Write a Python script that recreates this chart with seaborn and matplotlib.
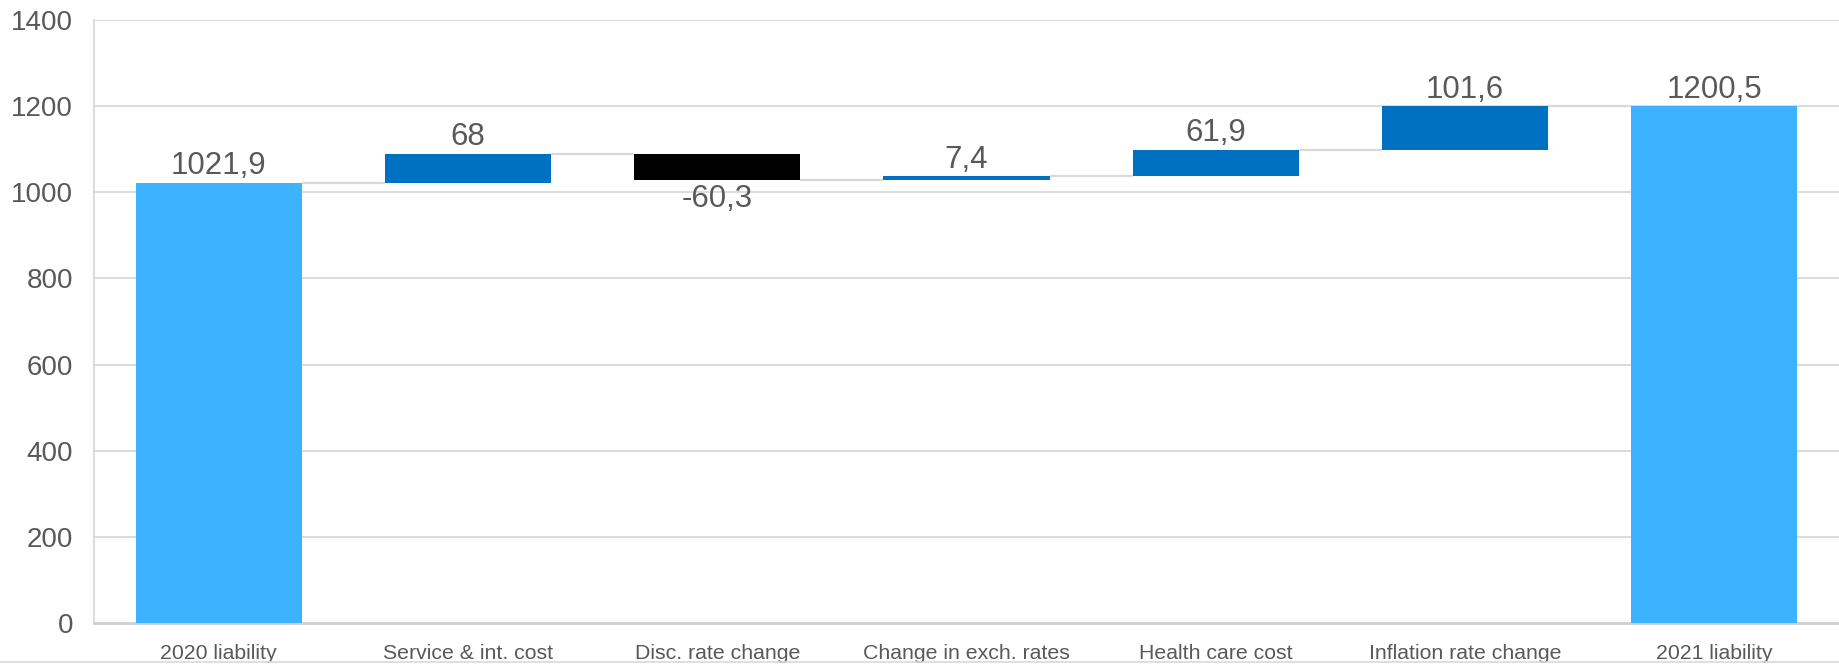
import numpy as np
import matplotlib.pyplot as plt
from matplotlib.lines import Line2D
import seaborn as sns

# Waterfall data
categories = ['2020 liability', 'Service & int. cost', 'Disc. rate change',
              'Change in exch. rates', 'Health care cost', 'Inflation rate change',
              '2021 liability']
changes = [1021.9, 68, -60.3, 7.4, 61.9, 101.6, 1200.5]
is_total = [True, False, False, False, False, False, True]

light_blue = '#3DB2FF'
dark_blue = '#0070C0'
neg_color = '#000000'
text_gray = '#595959'
grid_gray = '#D9D9D9'

# running totals -> bar bottoms / heights
bottoms = []
heights = []
running = 0.0
for v, tot in zip(changes, is_total):
    if tot:
        bottoms.append(0.0)
        heights.append(v)
        running = v
    else:
        bottoms.append(running)
        heights.append(v)
        running += v
levels = [b + h for b, h in zip(bottoms, heights)]

colors = []
for v, tot in zip(changes, is_total):
    if tot:
        colors.append(light_blue)
    elif v < 0:
        colors.append(neg_color)
    else:
        colors.append(dark_blue)

sns.set_theme(style='white')
plt.rcParams['font.family'] = ['Liberation Sans', 'DejaVu Sans']

fig = plt.figure(figsize=(18.39, 6.66), dpi=100)
ax = fig.add_axes([94 / 1839, 1 - 623 / 666, 1745 / 1839, (623 - 20) / 666])

bar_w = 0.667
ax.bar(np.arange(len(categories)), heights, bottom=bottoms, width=bar_w,
       color=colors, edgecolor='none', zorder=3)

# connector lines between bars
for i in range(len(categories) - 1):
    ax.hlines(levels[i], i + bar_w / 2, i + 1 - bar_w / 2, color=grid_gray,
              lw=1.6, zorder=2)

# data labels
for i, (v, tot) in enumerate(zip(changes, is_total)):
    lab = f'{v:g}'.replace('.', ',')
    top = max(bottoms[i], levels[i])
    low = min(bottoms[i], levels[i])
    if v < 0:
        ax.annotate(lab, (i, low), xytext=(0, -3), textcoords='offset points',
                    ha='center', va='top', fontsize=22.5, color=text_gray)
    else:
        ax.annotate(lab, (i, top), xytext=(0, 1), textcoords='offset points',
                    ha='center', va='bottom', fontsize=22.5, color=text_gray)

ax.set_xlim(-0.5, len(categories) - 0.5)
ax.set_ylim(0, 1400)
ax.set_yticks(np.arange(0, 1401, 200))
ax.set_xticks(np.arange(len(categories)))
ax.set_xticklabels(categories, fontsize=15.3, color=text_gray)
ax.tick_params(axis='y', labelsize=20, labelcolor=text_gray, length=0, pad=15)
ax.tick_params(axis='x', length=0, pad=15)
ax.grid(axis='y', color=grid_gray, lw=1.3, zorder=0)
ax.set_axisbelow(True)

sns.despine(ax=ax, top=True, right=True)
ax.spines['left'].set_color(grid_gray)
ax.spines['left'].set_linewidth(1.3)
ax.spines['bottom'].set_color('#D0D0D0')
ax.spines['bottom'].set_linewidth(2)

fig.add_artist(Line2D([0, 1], [1 - 662 / 666, 1 - 662 / 666],
                      transform=fig.transFigure, color=grid_gray, lw=1.2))

fig.savefig('out.png', dpi=100)
